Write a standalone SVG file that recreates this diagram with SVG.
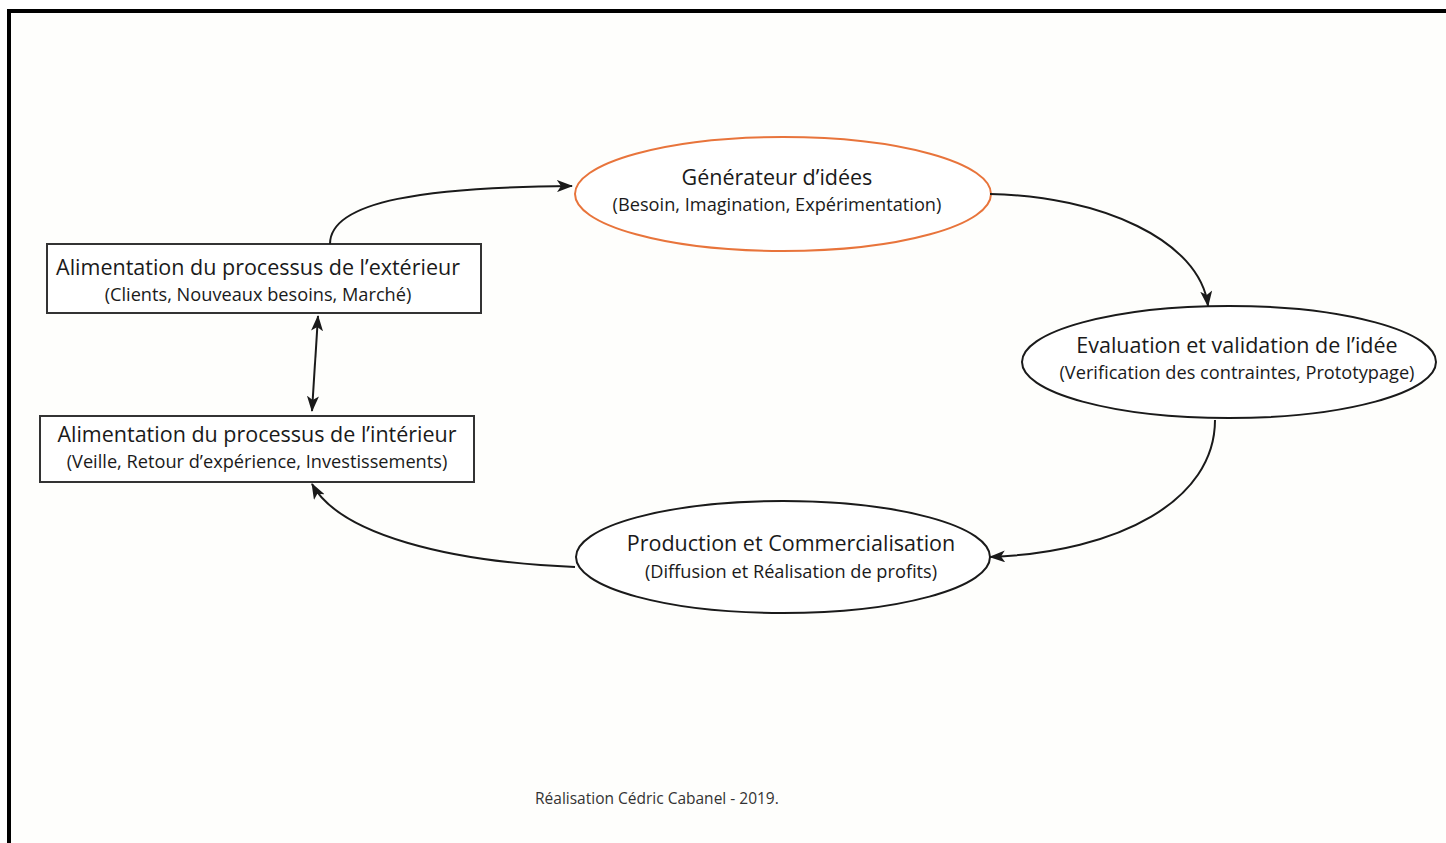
<svg xmlns="http://www.w3.org/2000/svg" width="1446" height="843" viewBox="0 0 1446 843">
<defs>
<marker id="ah" viewBox="0 0 16 12" markerWidth="16" markerHeight="12" refX="15" refY="6" orient="auto-start-reverse" markerUnits="userSpaceOnUse">
<path d="M0,0 L16,6 L0,12 L4,6 z" fill="#1a1a1a"/>
</marker>
</defs>
<style>
.t{font-family:"Open Sans","Liberation Sans",sans-serif;fill:#1a1a1a;text-anchor:middle}
.h{font-size:21.5px}
.s{font-size:18.2px}
.box{fill:#ffffff;stroke:#333;stroke-width:2}
.ell{fill:#ffffff;stroke:#1a1a1a;stroke-width:2}
.conn{fill:none;stroke:#1a1a1a;stroke-width:2}
</style>
<rect x="0" y="0" width="1446" height="843" fill="#ffffff"/>
<rect x="9" y="11" width="1437" height="832" fill="#fefefc"/>
<path d="M9,843 V11 H1446" fill="none" stroke="#000" stroke-width="4"/>
<g id="node-generateur">
<ellipse cx="783" cy="194" rx="208" ry="57" fill="#ffffff" stroke="#e8743b" stroke-width="2"/>
<text class="t h" x="777" y="185">Générateur d’idées</text>
<text class="t s" x="777" y="211">(Besoin, Imagination, Expérimentation)</text>
</g>
<g id="node-evaluation">
<ellipse class="ell" cx="1229" cy="362" rx="207" ry="56"/>
<text class="t h" x="1237" y="353">Evaluation et validation de l’idée</text>
<text class="t s" x="1237" y="379">(Verification des contraintes, Prototypage)</text>
</g>
<g id="node-production">
<ellipse class="ell" cx="783" cy="557" rx="207" ry="56"/>
<text class="t h" x="791" y="551">Production et Commercialisation</text>
<text class="t s" x="791" y="578">(Diffusion et Réalisation de profits)</text>
</g>
<g id="node-exterieur">
<rect class="box" x="47" y="244" width="434" height="69"/>
<text class="t h" x="258" y="275">Alimentation du processus de l’extérieur</text>
<text class="t s" x="258" y="301">(Clients, Nouveaux besoins, Marché)</text>
</g>
<g id="node-interieur">
<rect class="box" x="40" y="416" width="434" height="66"/>
<text class="t h" x="257" y="442">Alimentation du processus de l’intérieur</text>
<text class="t s" x="257" y="468">(Veille, Retour d’expérience, Investissements)</text>
</g>
<g id="connectors">
<path class="conn" d="M330,244 C330,200 430,187 572,186" marker-end="url(#ah)"/>
<path class="conn" d="M990,194 C1100,196 1200,240 1208,306" marker-end="url(#ah)"/>
<path class="conn" d="M1215,420 C1215,500 1120,552 990,557" marker-end="url(#ah)"/>
<path class="conn" d="M575,567 C450,562 340,535 312,484" marker-end="url(#ah)"/>
<path class="conn" d="M318,316 L312,411" marker-start="url(#ah)" marker-end="url(#ah)"/>
</g>
<text x="535" y="804" font-family="Open Sans, Liberation Sans, sans-serif" font-size="15.5" fill="#333">Réalisation Cédric Cabanel - 2019.</text>
</svg>
